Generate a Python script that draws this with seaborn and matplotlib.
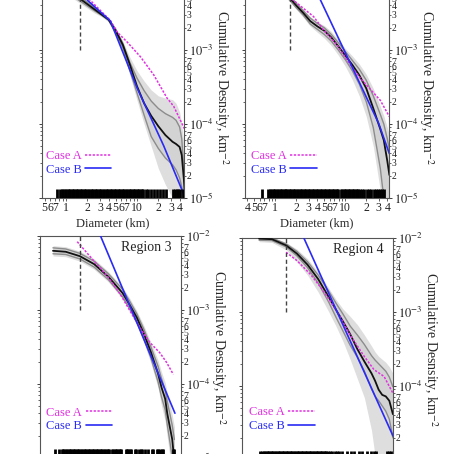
import numpy as np
import pandas as pd
import matplotlib
matplotlib.use("Agg")
import matplotlib.pyplot as plt
import seaborn as sns
from matplotlib.lines import Line2D
from matplotlib.ticker import FixedLocator, FixedFormatter

# ============================================================================
# Data (log10 of diameter in km, log10 of density km^-2)
# ============================================================================
# --- Region 1 ---
r1_logd = [-0.2, 0.0, 0.2, 0.4, 0.5, 0.6, 0.7, 0.8, 0.9, 1.0, 1.1, 1.2, 1.3, 1.4, 1.5, 1.55, 1.6, 1.63, 1.66, 1.68]
r1_mid = [-2.08, -2.18, -2.31, -2.45, -2.52, -2.59, -2.74, -2.93, -3.20, -3.49, -3.72, -3.89, -4.03, -4.15, -4.24, -4.27, -4.31, -4.42, -4.75, -5.05]
r1_hi = [-2.05, -2.15, -2.28, -2.43, -2.51, -2.58, -2.72, -2.91, -3.17, -3.38, -3.55, -3.69, -3.79, -3.86, -3.91, -3.95, -4.04, -4.20, -4.60, -4.95]
r1_lo = [-2.11, -2.21, -2.34, -2.47, -2.53, -2.60, -2.77, -2.97, -3.28, -3.58, -3.88, -4.17, -4.33, -4.46, -4.55, -4.62, -4.73, -4.85, -5.05, -5.20]
r1_band_hi = [-2.02, -2.12, -2.25, -2.40, -2.49, -2.57, -2.70, -2.88, -3.10, -3.28, -3.42, -3.54, -3.62, -3.65, -3.67, -3.72, -3.84, -4.00, -4.30, -4.80]
r1_band_lo = [-2.14, -2.24, -2.37, -2.50, -2.55, -2.62, -2.80, -3.02, -3.34, -3.68, -4.00, -4.30, -4.60, -4.82, -5.00, -5.10, -5.20, -5.30, -5.40, -5.50]
r1_a_logd = [0.197, 0.343, 0.624, 0.718, 0.859, 1.047, 1.235, 1.423, 1.516, 1.671]
r1_a_logn = [-2.21, -2.33, -2.60, -2.755, -2.89, -3.09, -3.335, -3.65, -3.76, -4.07]
r1_b_logd = [0.10, 0.305, 0.624, 1.0, 1.376, 1.68]
r1_b_logn = [-2.05, -2.33, -2.607, -3.51, -4.295, -5.0]
r1_craters = [0.755, 0.82, 0.88, 0.92, 0.96, 1.00, 1.05, 1.10, 1.15, 1.20, 1.25, 1.31, 1.37, 1.43, 1.49,
              1.56, 1.63, 1.70, 1.78, 1.86, 1.94, 2.03, 2.12, 2.22, 2.32, 2.42, 2.53, 2.64, 2.76, 2.89,
              3.02, 3.15, 3.29, 3.44, 3.60, 3.76, 3.93, 4.10, 4.29, 4.48, 4.68, 4.89, 5.11, 5.34, 5.58,
              5.83, 6.09, 6.37, 6.65, 6.95, 7.27, 7.59, 7.93, 8.29, 8.67, 9.06, 9.46, 9.89, 10.3, 10.8,
              11.3, 11.8, 12.3, 13.2, 14.4, 15.6, 17.3, 18.9, 21.1, 23.5, 25.3, 32.5, 34.3, 36.2, 38.2,
              40.3, 44.0]

# --- Region 2 ---
r2_logd = [-0.2, 0.0, 0.2, 0.3, 0.4, 0.5, 0.6, 0.7, 0.8, 0.9, 1.0, 1.1, 1.2, 1.3, 1.4, 1.5, 1.55, 1.6, 1.63]
r2_mid = [-2.00, -2.10, -2.29, -2.40, -2.50, -2.61, -2.68, -2.74, -2.83, -2.95, -3.075, -3.20, -3.34, -3.52, -3.79, -4.07, -4.22, -4.50, -4.69]
r2_hi = [-1.98, -2.07, -2.26, -2.37, -2.47, -2.57, -2.64, -2.70, -2.79, -2.90, -3.02, -3.14, -3.26, -3.41, -3.62, -3.87, -4.00, -4.20, -4.35]
r2_lo = [-2.02, -2.13, -2.32, -2.43, -2.53, -2.65, -2.72, -2.79, -2.88, -3.00, -3.13, -3.28, -3.46, -3.70, -4.05, -4.60, -5.00, -5.30, -5.50]
r2_band_hi = [-1.96, -2.05, -2.24, -2.35, -2.45, -2.55, -2.62, -2.67, -2.75, -2.86, -2.98, -3.08, -3.19, -3.33, -3.52, -3.76, -3.89, -4.05, -4.15]
r2_band_lo = [-2.04, -2.15, -2.34, -2.45, -2.56, -2.68, -2.76, -2.84, -2.94, -3.07, -3.22, -3.40, -3.62, -3.90, -4.30, -4.90, -5.30, -5.60, -5.80]
r2_a_logd = [0.214, 0.262, 0.548, 0.690, 0.881, 1.071, 1.214, 1.357, 1.5, 1.629]
r2_a_logn = [-2.29, -2.33, -2.55, -2.73, -2.93, -3.20, -3.38, -3.53, -3.68, -3.90]
r2_b_logd = [0.483, 1.476, 1.629]
r2_b_logn = [-2.0, -3.99, -4.40]
r2_craters = [0.64, 0.79, 0.83, 0.88, 0.92, 0.96, 1.00, 1.05, 1.10, 1.15, 1.20, 1.25, 1.31, 1.37, 1.43,
              1.49, 1.56, 1.63, 1.70, 1.78, 1.86, 1.94, 2.03, 2.12, 2.22, 2.32, 2.42, 2.53, 2.64, 2.76,
              2.89, 3.02, 3.15, 3.29, 3.44, 3.60, 3.76, 3.93, 4.10, 4.29, 4.48, 4.68, 4.89, 5.11, 5.34,
              5.58, 5.83, 6.09, 6.37, 6.65, 6.95, 7.27, 7.59, 7.93, 8.67, 9.06, 9.46, 9.89, 10.3, 10.8,
              11.3, 11.8, 12.3, 12.9, 13.5, 14.1, 14.7, 15.4, 16.0, 17.5, 18.5, 20.2, 21.8, 23.5, 25.7,
              27.7, 29.3, 31.3, 33.8, 35.7]

# --- Region 3 ---
r3_logd = [-0.18, 0.0, 0.2, 0.4, 0.6, 0.8, 0.9, 1.0, 1.1, 1.2, 1.3, 1.35, 1.4, 1.43, 1.47, 1.5, 1.53]
r3_mid = [-2.20, -2.213, -2.273, -2.38, -2.55, -2.77, -2.93, -3.10, -3.32, -3.57, -3.86, -4.05, -4.20, -4.40, -4.60, -4.75, -5.05]
r3_hi = [-2.16, -2.175, -2.235, -2.34, -2.51, -2.72, -2.88, -3.05, -3.26, -3.50, -3.76, -3.93, -4.08, -4.24, -4.42, -4.56, -4.75]
r3_lo = [-2.24, -2.25, -2.31, -2.42, -2.59, -2.82, -2.98, -3.16, -3.39, -3.65, -3.97, -4.18, -4.35, -4.55, -4.80, -5.00, -5.30]
r3_band_hi = [-2.13, -2.145, -2.205, -2.31, -2.48, -2.69, -2.84, -3.01, -3.21, -3.44, -3.68, -3.84, -3.98, -4.12, -4.28, -4.42, -4.58]
r3_band_lo = [-2.27, -2.28, -2.34, -2.45, -2.62, -2.85, -3.02, -3.20, -3.44, -3.72, -4.05, -4.30, -4.50, -4.72, -5.00, -5.20, -5.50]
r3_a_logd = [0.162, 0.388, 0.576, 0.763, 0.904, 1.069, 1.186, 1.327, 1.421, 1.515]
r3_a_logn = [-2.077, -2.327, -2.53, -2.78, -3.01, -3.277, -3.44, -3.58, -3.71, -3.87]
r3_b_logd = [0.49, 1.538]
r3_b_logn = [-2.0, -4.395]
r3_craters = [0.70, 0.81, 0.88, 0.92, 0.96, 1.00, 1.05, 1.10, 1.15, 1.20, 1.25, 1.31, 1.37, 1.43, 1.49,
              1.56, 1.63, 1.70, 1.78, 1.86, 1.94, 2.03, 2.12, 2.22, 2.32, 2.42, 2.53, 2.64, 2.76, 2.89,
              3.02, 3.15, 3.29, 3.44, 3.60, 3.76, 3.93, 4.10, 4.48, 4.68, 4.89, 5.11, 5.34, 5.58, 5.83,
              6.09, 6.95, 7.27, 7.59, 7.93, 8.29, 9.46, 9.89, 10.8, 11.3, 11.8, 13.0, 14.5, 16.2, 17.1,
              19.1, 20.1, 21.2, 22.4, 23.6, 32.0, 33.4]

# --- Region 4 ---
r4_logd = [-0.18, 0.0, 0.2, 0.35, 0.5, 0.65, 0.8, 0.9, 1.0, 1.1, 1.2, 1.3, 1.4, 1.45, 1.5, 1.55, 1.6, 1.65, 1.70]
r4_mid = [-2.009, -2.016, -2.10, -2.21, -2.36, -2.555, -2.80, -2.97, -3.13, -3.30, -3.50, -3.67, -3.83, -3.93, -4.05, -4.12, -4.14, -4.20, -4.38]
r4_hi = [-1.99, -2.0, -2.08, -2.18, -2.32, -2.50, -2.72, -2.88, -3.03, -3.19, -3.31, -3.44, -3.59, -3.65, -3.70, -3.75, -3.80, -3.88, -4.01]
r4_lo = [-2.03, -2.035, -2.12, -2.24, -2.40, -2.61, -2.87, -3.07, -3.26, -3.45, -3.61, -3.80, -4.04, -4.14, -4.20, -4.27, -4.34, -4.45, -4.70]
r4_band_hi = [-1.98, -1.985, -2.06, -2.15, -2.28, -2.46, -2.68, -2.83, -2.96, -3.06, -3.17, -3.31, -3.46, -3.54, -3.60, -3.64, -3.68, -3.74, -3.83]
r4_band_lo = [-2.05, -2.06, -2.16, -2.32, -2.50, -2.73, -3.00, -3.19, -3.40, -3.64, -3.90, -4.16, -4.60, -4.95, -5.30, -5.60, -5.80, -6.00, -6.00]
r4_a_logd = [0.2, 0.355, 0.543, 0.73, 0.918, 1.106, 1.294, 1.435, 1.576, 1.702]
r4_a_logn = [-2.193, -2.308, -2.492, -2.722, -2.998, -3.32, -3.595, -3.78, -3.871, -4.10]
r4_b_logd = [0.449, 1.702]
r4_b_logn = [-2.0, -4.676]
r4_craters = [0.69, 0.73, 0.77, 0.80, 0.84, 0.88, 0.92, 0.96, 1.00, 1.05, 1.10, 1.15, 1.20, 1.25, 1.31,
              1.37, 1.43, 1.49, 1.56, 1.63, 1.70, 1.78, 1.86, 1.94, 2.03, 2.12, 2.22, 2.32, 2.42, 2.53,
              2.64, 2.76, 2.89, 3.02, 3.15, 3.29, 3.44, 3.60, 3.76, 3.93, 4.10, 4.29, 4.48, 4.68, 4.89,
              5.11, 5.34, 5.58, 5.83, 6.09, 6.5, 7.0, 7.6, 8.3, 8.8, 9.7, 11.5, 12.8, 14.2, 16.7, 18.6,
              21.9, 24.4, 27.2, 28.7, 42.0, 44.3, 46.7]

region_names = ["Region 1", "Region 2", "Region 3", "Region 4"]
cutoff_d = [1.57, 1.64, 1.60, 1.60]

# ============================================================================
# Layout (pixel boxes of the 454x454 crop: left, top, right, bottom)
# ============================================================================
FIG_PX = 454
boxes = [(42, -24, 184, 198), (245, -24, 389, 198), (40, 236, 181, 458), (242, 238, 393, 460)]
xlims = [(0.459, 45.9), (0.369, 42.1), (0.434, 42.0), (0.38, 50.3)]
legend_anchor = [(0.025, 0.10), (0.04, 0.10), (0.045, 0.115), (0.045, 0.125)]

MAGENTA = "#e030e0"
BLUE = "#2a2af5"
SERIF = ["Liberation Serif", "DejaVu Serif"]

sns.set_theme(style="ticks")
plt.rcParams["font.family"] = SERIF
plt.rcParams["mathtext.fontset"] = "stix"

fig = plt.figure(figsize=(4.54, 4.54), dpi=100)


def draw_panel(ax, i, logd, mid, hi, lo, band_hi, band_lo, a_logd, a_logn, b_logd, b_logn, craters):
    d = np.power(10.0, logd)
    curves = pd.DataFrame({
        "D": d,
        "mid": np.power(10.0, mid),
        "hi": np.power(10.0, hi),
        "lo": np.power(10.0, lo),
        "band_hi": np.power(10.0, band_hi),
        "band_lo": np.power(10.0, band_lo),
    })
    ax.set_xscale("log")
    ax.set_yscale("log")

    ax.fill_between(curves["D"], curves["band_lo"], curves["band_hi"], color="#dedede", lw=0, zorder=1)
    ax.fill_between(curves["D"], curves["lo"], curves["hi"], color="#d3d3d3", lw=0, zorder=1.2)
    for col in ["hi", "lo"]:
        sns.lineplot(data=curves, x="D", y=col, color="#8c8c8c", lw=1.0, ax=ax,
                     estimator=None, sort=False, errorbar=None, zorder=2)
    sns.lineplot(data=curves, x="D", y="mid", color="#111111", lw=1.3, ax=ax,
                 estimator=None, sort=False, errorbar=None, zorder=3)

    case_a = pd.DataFrame({"D": np.power(10.0, a_logd), "N": np.power(10.0, a_logn)})
    case_b = pd.DataFrame({"D": np.power(10.0, b_logd), "N": np.power(10.0, b_logn)})
    sns.lineplot(data=case_a, x="D", y="N", color=MAGENTA, lw=1.1, ls=(0, (1.5, 1.0)), ax=ax,
                 estimator=None, sort=False, errorbar=None, zorder=4)
    sns.lineplot(data=case_b, x="D", y="N", color=BLUE, lw=1.2, ax=ax,
                 estimator=None, sort=False, errorbar=None, zorder=4)

    ax.vlines(cutoff_d[i], 1e-3, 1e-2, colors="#444444", linestyles=(0, (3, 2)), lw=1.0, zorder=5)
    sns.rugplot(x=craters, height=0.042, color="black", linewidth=2.0, ax=ax, zorder=5)

    ax.set_xlim(*xlims[i])
    ax.set_ylim(1e-5, 1e-2)

    # ticks
    xmaj = [0.1, 1, 10, 100]
    ax.xaxis.set_major_locator(FixedLocator(xmaj))
    ax.xaxis.set_major_formatter(FixedFormatter(["", "1", "10", ""]))
    xmin = [m * 10.0 ** k for k in (-1, 0, 1) for m in range(2, 10)]
    ax.xaxis.set_minor_locator(FixedLocator(xmin))
    ax.xaxis.set_minor_formatter(FixedFormatter([str(m) if m <= 7 else "" for k in (-1, 0, 1) for m in range(2, 10)]))

    ymaj = [1e-5, 1e-4, 1e-3, 1e-2]
    ax.yaxis.set_major_locator(FixedLocator(ymaj))
    ax.yaxis.set_major_formatter(FixedFormatter([r"$10^{-5}$", r"$10^{-4}$", r"$10^{-3}$", r"$10^{-2}$"]))
    ymin = [m * 10.0 ** k for k in (-5, -4, -3) for m in range(2, 10)]
    ax.yaxis.set_minor_locator(FixedLocator(ymin))
    ax.yaxis.set_minor_formatter(FixedFormatter([str(m) if m <= 7 else "" for k in (-5, -4, -3) for m in range(2, 10)]))

    ax.tick_params(axis="x", which="both", direction="out", length=2, width=0.5, pad=1, labelsize=8.5, colors="#222222")
    ax.tick_params(axis="y", which="both", left=True, right=True, labelleft=False, labelright=True, direction="out")
    ax.tick_params(axis="y", which="major", length=2.5, width=0.6, pad=1, labelsize=9, colors="#222222")
    ax.tick_params(axis="y", which="minor", length=1.5, width=0.5, pad=0.5, labelsize=7, colors="#222222")

    for sp in ax.spines.values():
        sp.set_color("#555555")
        sp.set_linewidth(0.8)

    ax.set_xlabel("Diameter (km)", fontsize=9, labelpad=2)
    ax.yaxis.set_label_position("right")
    ax.set_ylabel(r"Cumulative Desnsity, km$^{-2}$", fontsize=10, rotation=270, labelpad=12)

    ax.text(0.936, 0.978, region_names[i], transform=ax.transAxes, ha="right", va="top", fontsize=10)

    handles = [Line2D([], [], color=MAGENTA, lw=1.1, ls=(0, (1.5, 1.0))),
               Line2D([], [], color=BLUE, lw=1.2)]
    ax.legend(handles, ["Case A", "Case B"], loc="lower left", bbox_to_anchor=legend_anchor[i],
              markerfirst=False, frameon=False, labelcolor=[MAGENTA, BLUE],
              handlelength=2.1, handletextpad=0.3, borderpad=0, borderaxespad=0,
              labelspacing=0.15, prop={"family": SERIF, "size": 9})


panels = [
    (r1_logd, r1_mid, r1_hi, r1_lo, r1_band_hi, r1_band_lo, r1_a_logd, r1_a_logn, r1_b_logd, r1_b_logn, r1_craters),
    (r2_logd, r2_mid, r2_hi, r2_lo, r2_band_hi, r2_band_lo, r2_a_logd, r2_a_logn, r2_b_logd, r2_b_logn, r2_craters),
    (r3_logd, r3_mid, r3_hi, r3_lo, r3_band_hi, r3_band_lo, r3_a_logd, r3_a_logn, r3_b_logd, r3_b_logn, r3_craters),
    (r4_logd, r4_mid, r4_hi, r4_lo, r4_band_hi, r4_band_lo, r4_a_logd, r4_a_logn, r4_b_logd, r4_b_logn, r4_craters),
]

for i, (box, data) in enumerate(zip(boxes, panels)):
    l, t, r, b = box
    ax = fig.add_axes([l / FIG_PX, (FIG_PX - b) / FIG_PX, (r - l) / FIG_PX, (b - t) / FIG_PX])
    draw_panel(ax, i, *data)

fig.savefig("out.png", dpi=100, facecolor="white")
